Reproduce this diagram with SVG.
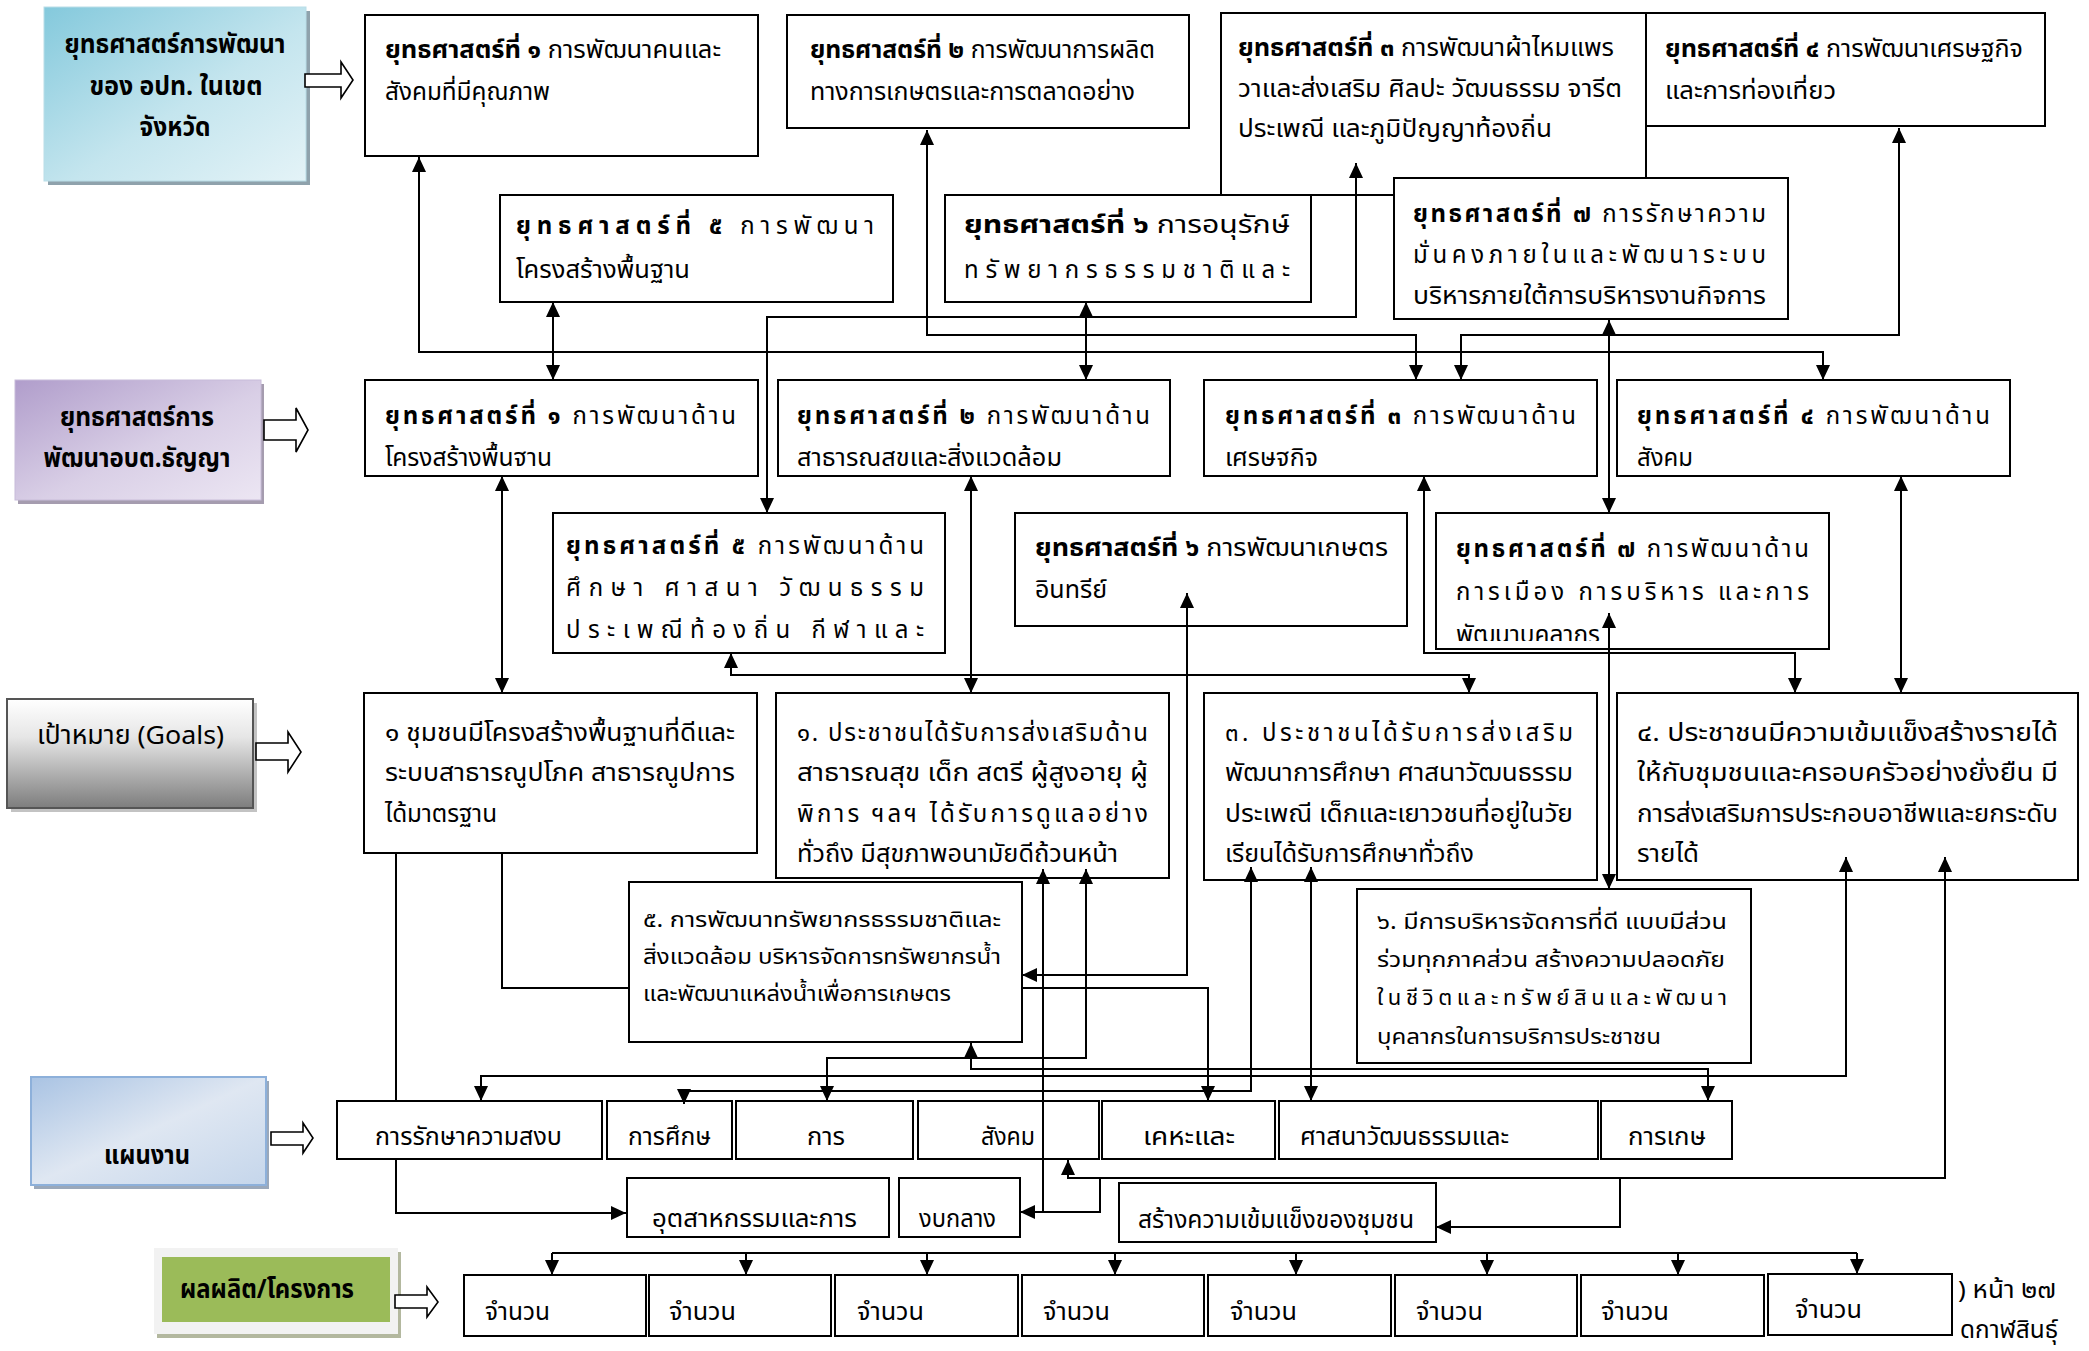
<svg xmlns="http://www.w3.org/2000/svg" width="2089" height="1351" viewBox="0 0 2089 1351">
<defs>
<style>
.t{font-family:'Noto Sans Thai','Noto Sans Thai UI','Noto Sans','DejaVu Sans',sans-serif;font-size:24px;fill:#000}
.s{font-size:22px}
.b{font-weight:bold}
.lb{font-family:'Noto Sans Thai','Noto Sans Thai UI','Noto Sans','DejaVu Sans',sans-serif;font-size:27px;font-weight:bold;fill:#000;text-anchor:middle}
.bx{fill:#fff;stroke:#000;stroke-width:2}
.bxn{fill:none;stroke:#000;stroke-width:2}
.c{fill:none;stroke:#000;stroke-width:2}
.ab{marker-start:url(#ah);marker-end:url(#ah)}
.ae{marker-end:url(#ah)}
.ha{fill:#fff;stroke:#000;stroke-width:1.6}
</style>
<marker id="ah" viewBox="0 0 15 14" refX="15" refY="7" markerWidth="15" markerHeight="14" markerUnits="userSpaceOnUse" orient="auto-start-reverse"><path d="M0,0 L15,7 L0,14 z" fill="#000"/></marker>
<linearGradient id="gTeal" x1="0" y1="0" x2="1" y2="1"><stop offset="0" stop-color="#84c9dc"/><stop offset="0.55" stop-color="#c4e5ee"/><stop offset="1" stop-color="#e4f3f7"/></linearGradient>
<linearGradient id="gPurp" x1="0" y1="0" x2="1" y2="1"><stop offset="0" stop-color="#b09dcb"/><stop offset="0.55" stop-color="#d9cfe6"/><stop offset="1" stop-color="#ece6f3"/></linearGradient>
<linearGradient id="gGray" x1="0" y1="0" x2="0" y2="1"><stop offset="0" stop-color="#ffffff"/><stop offset="0.35" stop-color="#e6e6e6"/><stop offset="1" stop-color="#7d7d7d"/></linearGradient>
<linearGradient id="gBlue" x1="0" y1="0" x2="1" y2="1"><stop offset="0" stop-color="#a9c3e3"/><stop offset="0.5" stop-color="#dfe7f2"/><stop offset="1" stop-color="#c5d6eb"/></linearGradient>
<clipPath id="cB"><rect x="0" y="0" width="2089" height="467"/></clipPath>
<clipPath id="cB7"><rect x="0" y="0" width="2089" height="641"/></clipPath>
</defs>
<rect width="2089" height="1351" fill="#fff"/>

<g id="footer-fragments" class="t">
<text x="1958" y="1298" textLength="98" lengthAdjust="spacingAndGlyphs">) หน้า ๒๗</text>
<text x="1960" y="1338" textLength="98" lengthAdjust="spacingAndGlyphs">ดกาฬสินธุ์</text>
</g>

<g id="lbl-province">
<rect x="48" y="11" width="262" height="174" fill="#8fa2ac"/>
<rect x="44" y="7" width="262" height="174" fill="url(#gTeal)" stroke="#b9dde7" stroke-width="1"/>
<text class="lb" x="175" y="53" textLength="221" lengthAdjust="spacingAndGlyphs">ยุทธศาสตร์การพัฒนา</text>
<text class="lb" x="176" y="95" textLength="173" lengthAdjust="spacingAndGlyphs">ของ อปท. ในเขต</text>
<text class="lb" x="175" y="136" textLength="71" lengthAdjust="spacingAndGlyphs">จังหวัด</text>
</g>
<g id="lbl-tambon">
<rect x="18" y="384" width="246" height="120" fill="#a59caf"/>
<rect x="15" y="380" width="246" height="120" fill="url(#gPurp)" stroke="#c8bcd9" stroke-width="1"/>
<text class="lb" x="137" y="426" textLength="154" lengthAdjust="spacingAndGlyphs">ยุทธศาสตร์การ</text>
<text class="lb" x="137" y="467" textLength="187" lengthAdjust="spacingAndGlyphs">พัฒนาอบต.ธัญญา</text>
</g>
<g id="lbl-goals">
<rect x="11" y="703" width="246" height="109" fill="#c3c3c3"/>
<rect x="7" y="699" width="246" height="109" fill="url(#gGray)" stroke="#555" stroke-width="2"/>
<text class="t" x="37" y="744" style="font-size:26px" textLength="187" lengthAdjust="spacingAndGlyphs">เป้าหมาย (Goals)</text>
</g>
<g id="lbl-plans">
<rect x="34" y="1081" width="235" height="108" fill="#9aa8ba"/>
<rect x="31" y="1077" width="235" height="108" fill="url(#gBlue)" stroke="#8db0da" stroke-width="2"/>
<text class="lb" x="147" y="1164" textLength="86" lengthAdjust="spacingAndGlyphs">แผนงาน</text>
</g>
<g id="lbl-outputs">
<rect x="157" y="1252" width="244" height="86" fill="#b3b89f"/>
<rect x="154" y="1248" width="244" height="86" fill="#f2f2f2"/>
<rect x="162" y="1257" width="228" height="65" fill="#9bbb59"/>
<text class="lb" x="267" y="1298" textLength="174" lengthAdjust="spacingAndGlyphs">ผลผลิต/โครงการ</text>
</g>

<g id="block-arrows">
<polygon class="ha" points="305,74 341,74 341,62 353,80 341,98 341,87 305,87"/>
<polygon class="ha" points="264,420 296,420 296,408 308,430 296,452 296,440 264,440"/>
<polygon class="ha" points="256,743 288,743 288,732 301,752 288,772 288,760 256,760"/>
<polygon class="ha" points="271,1132 303,1132 303,1123 313,1138 303,1153 303,1145 271,1145"/>
<polygon class="ha" points="395,1295 427,1295 427,1287 438,1302 427,1317 427,1308 395,1308"/>
</g>

<g id="prov-s1" class="t">
<rect class="bx" x="365" y="15" width="393" height="141"/>
<text x="385" y="58" textLength="336" lengthAdjust="spacingAndGlyphs"><tspan class="b">ยุทธศาสตร์ที่ ๑</tspan> การพัฒนาคนและ</text>
<text x="385" y="100" textLength="165" lengthAdjust="spacingAndGlyphs">สังคมที่มีคุณภาพ</text>
</g>
<g id="prov-s2" class="t">
<rect class="bx" x="787" y="15" width="402" height="113"/>
<text x="810" y="58" textLength="345" lengthAdjust="spacingAndGlyphs"><tspan class="b">ยุทธศาสตร์ที่ ๒</tspan> การพัฒนาการผลิต</text>
<text x="810" y="100" textLength="325" lengthAdjust="spacingAndGlyphs">ทางการเกษตรและการตลาดอย่าง</text>
</g>
<g id="prov-s3" class="t">
<rect class="bx" x="1221" y="13" width="425" height="182"/>
<text x="1238" y="56" textLength="376" lengthAdjust="spacingAndGlyphs"><tspan class="b">ยุทธศาสตร์ที่ ๓</tspan> การพัฒนาผ้าไหมแพร</text>
<text x="1238" y="97" textLength="384" lengthAdjust="spacingAndGlyphs">วาและส่งเสริม ศิลปะ วัฒนธรรม  จารีต</text>
<text x="1238" y="137" textLength="314" lengthAdjust="spacingAndGlyphs">ประเพณี  และภูมิปัญญาท้องถิ่น</text>
</g>
<g id="prov-s4" class="t">
<rect class="bx" x="1646" y="13" width="399" height="113"/>
<text x="1665" y="57" textLength="358" lengthAdjust="spacingAndGlyphs"><tspan class="b">ยุทธศาสตร์ที่ ๔</tspan> การพัฒนาเศรษฐกิจ</text>
<text x="1665" y="99" textLength="171" lengthAdjust="spacingAndGlyphs">และการท่องเที่ยว</text>
</g>
<g id="prov-s5" class="t">
<rect class="bx" x="500" y="195" width="393" height="107"/>
<text x="516" y="234" textLength="358" lengthAdjust="spacing"><tspan class="b">ยุทธศาสตร์ที่ ๕</tspan> การพัฒนา</text>
<text x="516" y="278" textLength="174" lengthAdjust="spacingAndGlyphs">โครงสร้างพื้นฐาน</text>
</g>
<g id="prov-s6" class="t">
<rect class="bx" x="945" y="195" width="366" height="107"/>
<text x="964" y="233" textLength="326" lengthAdjust="spacingAndGlyphs"><tspan class="b">ยุทธศาสตร์ที่ ๖</tspan> การอนุรักษ์</text>
<text x="964" y="278" textLength="326" lengthAdjust="spacing">ทรัพยากรธรรมชาติและ</text>
</g>
<g id="prov-s7" class="t">
<rect class="bx" x="1394" y="178" width="394" height="141"/>
<text x="1413" y="222" textLength="353" lengthAdjust="spacing"><tspan class="b">ยุทธศาสตร์ที่ ๗</tspan> การรักษาความ</text>
<text x="1413" y="263" textLength="353" lengthAdjust="spacing">มั่นคงภายในและพัฒนาระบบ</text>
<text x="1413" y="304" textLength="353" lengthAdjust="spacingAndGlyphs">บริหารภายใต้การบริหารงานกิจการ</text>
</g>

<g id="tam-s1" class="t">
<rect class="bx" x="365" y="380" width="393" height="96"/>
<text x="385" y="424" textLength="351" lengthAdjust="spacing"><tspan class="b">ยุทธศาสตร์ที่ ๑</tspan> การพัฒนาด้าน</text>
<text x="385" y="466" textLength="167" lengthAdjust="spacingAndGlyphs" clip-path="url(#cB)">โครงสร้างพื้นฐาน</text>
</g>
<g id="tam-s2" class="t">
<rect class="bx" x="778" y="380" width="392" height="96"/>
<text x="797" y="424" textLength="353" lengthAdjust="spacing"><tspan class="b">ยุทธศาสตร์ที่ ๒</tspan> การพัฒนาด้าน</text>
<text x="797" y="466" textLength="265" lengthAdjust="spacingAndGlyphs" clip-path="url(#cB)">สาธารณสุขและสิ่งแวดล้อม</text>
</g>
<g id="tam-s3" class="t">
<rect class="bx" x="1204" y="380" width="393" height="96"/>
<text x="1225" y="424" textLength="351" lengthAdjust="spacing"><tspan class="b">ยุทธศาสตร์ที่ ๓</tspan> การพัฒนาด้าน</text>
<text x="1225" y="466" textLength="93" lengthAdjust="spacingAndGlyphs" clip-path="url(#cB)">เศรษฐกิจ</text>
</g>
<g id="tam-s4" class="t">
<rect class="bx" x="1617" y="380" width="393" height="96"/>
<text x="1637" y="424" textLength="353" lengthAdjust="spacing"><tspan class="b">ยุทธศาสตร์ที่ ๔</tspan> การพัฒนาด้าน</text>
<text x="1637" y="466" textLength="56" lengthAdjust="spacingAndGlyphs" clip-path="url(#cB)">สังคม</text>
</g>
<g id="tam-s5" class="t">
<rect class="bx" x="553" y="513" width="392" height="140"/>
<text x="566" y="554" textLength="358" lengthAdjust="spacing"><tspan class="b">ยุทธศาสตร์ที่ ๕</tspan> การพัฒนาด้าน</text>
<text x="566" y="596" textLength="358" lengthAdjust="spacing">ศึกษา  ศาสนา  วัฒนธรรม</text>
<text x="566" y="638" textLength="358" lengthAdjust="spacing">ประเพณีท้องถิ่น  กีฬาและ</text>
</g>
<g id="tam-s6" class="t">
<rect class="bx" x="1015" y="513" width="392" height="113"/>
<text x="1035" y="556" textLength="353" lengthAdjust="spacingAndGlyphs"><tspan class="b">ยุทธศาสตร์ที่ ๖</tspan> การพัฒนาเกษตร</text>
<text x="1035" y="598" textLength="72" lengthAdjust="spacingAndGlyphs">อินทรีย์</text>
</g>
<g id="tam-s7" class="t">
<rect class="bx" x="1436" y="513" width="393" height="136"/>
<text x="1456" y="557" textLength="353" lengthAdjust="spacing"><tspan class="b">ยุทธศาสตร์ที่ ๗</tspan> การพัฒนาด้าน</text>
<text x="1456" y="600" textLength="353" lengthAdjust="spacing">การเมือง การบริหาร และการ</text>
<text x="1456" y="643" textLength="144" lengthAdjust="spacingAndGlyphs" clip-path="url(#cB7)">พัฒนาบุคลากร</text>
</g>

<g id="goal-1" class="t">
<rect class="bx" x="364" y="693" width="393" height="160"/>
<text x="385" y="741" textLength="350" lengthAdjust="spacingAndGlyphs">๑ ชุมชนมีโครงสร้างพื้นฐานที่ดีและ</text>
<text x="385" y="781" textLength="350" lengthAdjust="spacingAndGlyphs">ระบบสาธารณูปโภค สาธารณูปการ</text>
<text x="385" y="822" textLength="112" lengthAdjust="spacingAndGlyphs">ได้มาตรฐาน</text>
</g>
<g id="goal-2" class="t">
<rect class="bx" x="776" y="693" width="393" height="185"/>
<text x="797" y="741" textLength="351" lengthAdjust="spacing">๑. ประชาชนได้รับการส่งเสริมด้าน</text>
<text x="797" y="781" textLength="351" lengthAdjust="spacingAndGlyphs">สาธารณสุข เด็ก สตรี ผู้สูงอายุ ผู้</text>
<text x="797" y="822" textLength="351" lengthAdjust="spacing">พิการ ฯลฯ ได้รับการดูแลอย่าง</text>
<text x="797" y="862" textLength="321" lengthAdjust="spacingAndGlyphs">ทั่วถึง มีสุขภาพอนามัยดีถ้วนหน้า</text>
</g>
<g id="goal-3" class="t">
<rect class="bx" x="1204" y="693" width="393" height="187"/>
<text x="1225" y="741" textLength="348" lengthAdjust="spacing">๓. ประชาชนได้รับการส่งเสริม</text>
<text x="1225" y="781" textLength="348" lengthAdjust="spacingAndGlyphs">พัฒนาการศึกษา ศาสนาวัฒนธรรม</text>
<text x="1225" y="822" textLength="348" lengthAdjust="spacingAndGlyphs">ประเพณี  เด็กและเยาวชนที่อยู่ในวัย</text>
<text x="1225" y="862" textLength="249" lengthAdjust="spacingAndGlyphs">เรียนได้รับการศึกษาทั่วถึง</text>
</g>
<g id="goal-4" class="t">
<rect class="bx" x="1617" y="693" width="461" height="187"/>
<text x="1637" y="741" textLength="421" lengthAdjust="spacingAndGlyphs">๔. ประชาชนมีความเข้มแข็งสร้างรายได้</text>
<text x="1637" y="781" textLength="421" lengthAdjust="spacingAndGlyphs">ให้กับชุมชนและครอบครัวอย่างยั่งยืน  มี</text>
<text x="1637" y="822" textLength="421" lengthAdjust="spacingAndGlyphs">การส่งเสริมการประกอบอาชีพและยกระดับ</text>
<text x="1637" y="862" textLength="62" lengthAdjust="spacingAndGlyphs">รายได้</text>
</g>
<g id="goal-5" class="t s">
<rect class="bx" x="629" y="882" width="393" height="160"/>
<text x="643" y="927" textLength="358" lengthAdjust="spacingAndGlyphs">๕. การพัฒนาทรัพยากรธรรมชาติและ</text>
<text x="643" y="964" textLength="358" lengthAdjust="spacingAndGlyphs">สิ่งแวดล้อม บริหารจัดการทรัพยากรน้ำ</text>
<text x="643" y="1001" textLength="308" lengthAdjust="spacingAndGlyphs">และพัฒนาแหล่งน้ำเพื่อการเกษตร</text>
</g>
<g id="goal-6" class="t s">
<rect class="bx" x="1357" y="889" width="394" height="174"/>
<text x="1377" y="929" textLength="350" lengthAdjust="spacingAndGlyphs">๖.  มีการบริหารจัดการที่ดี แบบมีส่วน</text>
<text x="1377" y="967" textLength="348" lengthAdjust="spacingAndGlyphs">ร่วมทุกภาคส่วน สร้างความปลอดภัย</text>
<text x="1377" y="1005" textLength="350" lengthAdjust="spacing">ในชีวิตและทรัพย์สินและพัฒนา</text>
<text x="1377" y="1044" textLength="284" lengthAdjust="spacingAndGlyphs">บุคลากรในการบริการประชาชน</text>
</g>

<g id="plan-1" class="t"><rect class="bx" x="337" y="1101" width="265" height="58"/><text x="375" y="1145" textLength="187" lengthAdjust="spacingAndGlyphs">การรักษาความสงบ</text></g>
<g id="plan-2" class="t"><rect class="bx" x="607" y="1101" width="125" height="58"/><text x="628" y="1145" textLength="83" lengthAdjust="spacingAndGlyphs">การศึกษ</text></g>
<g id="plan-3" class="t"><rect class="bx" x="736" y="1101" width="177" height="58"/><text x="807" y="1145" textLength="38" lengthAdjust="spacingAndGlyphs">การ</text></g>
<g id="plan-4" class="t"><rect class="bxn" x="918" y="1101" width="181" height="58"/><text x="981" y="1145" textLength="54" lengthAdjust="spacingAndGlyphs">สังคม</text></g>
<g id="plan-5" class="t"><rect class="bx" x="1102" y="1101" width="173" height="58"/><text x="1143" y="1145" textLength="92" lengthAdjust="spacingAndGlyphs">เคหะและ</text></g>
<g id="plan-6" class="t"><rect class="bx" x="1279" y="1101" width="319" height="58"/><text x="1300" y="1145" textLength="209" lengthAdjust="spacingAndGlyphs">ศาสนาวัฒนธรรมและ</text></g>
<g id="plan-7" class="t"><rect class="bx" x="1601" y="1101" width="131" height="58"/><text x="1628" y="1145" textLength="78" lengthAdjust="spacingAndGlyphs">การเกษ</text></g>
<g id="plan-8" class="t"><rect class="bx" x="627" y="1178" width="262" height="59"/><text x="652" y="1227" textLength="205" lengthAdjust="spacingAndGlyphs">อุตสาหกรรมและการ</text></g>
<g id="plan-9" class="t"><rect class="bx" x="899" y="1178" width="121" height="59"/><text x="919" y="1227" textLength="77" lengthAdjust="spacingAndGlyphs">งบกลาง</text></g>
<g id="plan-10" class="t"><rect class="bx" x="1119" y="1183" width="317" height="59"/><text x="1138" y="1228" textLength="276" lengthAdjust="spacingAndGlyphs">สร้างความเข้มแข็งของชุมชน</text></g>

<g id="out-1" class="t"><rect class="bx" x="464" y="1275" width="182" height="61"/><text x="485" y="1320" textLength="65" lengthAdjust="spacingAndGlyphs">จำนวน</text></g>
<g id="out-2" class="t"><rect class="bx" x="649" y="1275" width="182" height="61"/><text x="669" y="1320" textLength="67" lengthAdjust="spacingAndGlyphs">จำนวน</text></g>
<g id="out-3" class="t"><rect class="bx" x="835" y="1275" width="183" height="61"/><text x="857" y="1320" textLength="67" lengthAdjust="spacingAndGlyphs">จำนวน</text></g>
<g id="out-4" class="t"><rect class="bx" x="1022" y="1275" width="182" height="61"/><text x="1043" y="1320" textLength="67" lengthAdjust="spacingAndGlyphs">จำนวน</text></g>
<g id="out-5" class="t"><rect class="bx" x="1208" y="1275" width="183" height="61"/><text x="1230" y="1320" textLength="67" lengthAdjust="spacingAndGlyphs">จำนวน</text></g>
<g id="out-6" class="t"><rect class="bx" x="1395" y="1275" width="182" height="61"/><text x="1416" y="1320" textLength="67" lengthAdjust="spacingAndGlyphs">จำนวน</text></g>
<g id="out-7" class="t"><rect class="bx" x="1581" y="1275" width="183" height="61"/><text x="1601" y="1320" textLength="68" lengthAdjust="spacingAndGlyphs">จำนวน</text></g>
<g id="out-8" class="t"><rect class="bx" x="1768" y="1274" width="184" height="61"/><text x="1795" y="1318" textLength="67" lengthAdjust="spacingAndGlyphs">จำนวน</text></g>

<g id="connectors">
<path class="c ab" d="M419,157 V352 H1823 V380"/>
<path class="c ab" d="M927,130 V335 H1416 V380"/>
<path class="c ab" d="M1899,128 V335 H1461 V380"/>
<path class="c ab" d="M553,302 V380"/>
<path class="c ab" d="M1086,302 V380"/>
<path class="c ab" d="M1609,320 V513"/>
<path class="c ab" d="M1356,163 V317 H767 V513"/>
<path class="c ab" d="M502,476 V693"/>
<path class="c ab" d="M971,476 V693"/>
<path class="c ab" d="M1901,476 V693"/>
<path class="c ab" d="M1424,476 V653 H1795 V693"/>
<path class="c ab" d="M731,653 V675 H1469 V693"/>
<path class="c ab" d="M1187,593 V975 H1022"/>
<path class="c ab" d="M1609,613 V889"/>
<path class="c ae" d="M396,853 V1101 M396,1159 V1213 H626"/>
<path class="c" d="M502,853 V988 H629"/>
<path class="c ae" d="M1022,988 H1208 V1101"/>
<path class="c ab" d="M971,1043 V1069 H1708 V1101"/>
<path class="c ab" d="M1086,869 V1058 H827 V1101"/>
<path class="c ab" d="M1043,869 V1212 H1020"/>
<path class="c ab" d="M1251,867 V1091 H684 V1104"/>
<path class="c ab" d="M1311,867 V1101"/>
<path class="c ab" d="M1846,857 V1076 H481 V1101"/>
<path class="c ab" d="M1945,857 V1178 H1068 V1160"/>
<path class="c" d="M1100,1178 V1212 H1043"/>
<path class="c ae" d="M1620,1178 V1227 H1436"/>
<path class="c" d="M552,1253 H1857"/>
<path class="c ae" d="M552,1253 V1275"/>
<path class="c ae" d="M746,1253 V1275"/>
<path class="c ae" d="M927,1253 V1275"/>
<path class="c ae" d="M1115,1253 V1275"/>
<path class="c ae" d="M1296,1253 V1275"/>
<path class="c ae" d="M1487,1253 V1275"/>
<path class="c ae" d="M1678,1253 V1275"/>
<path class="c ae" d="M1857,1253 V1274"/>
</g>
</svg>
